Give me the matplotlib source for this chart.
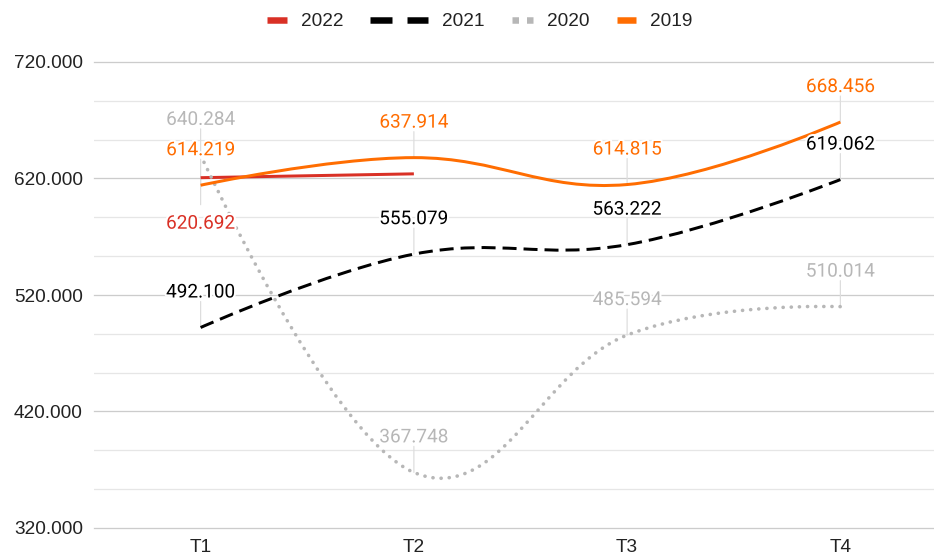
import matplotlib
matplotlib.use('Agg')
import matplotlib.pyplot as plt
from matplotlib.path import Path
from matplotlib.patches import PathPatch
from matplotlib.lines import Line2D
import matplotlib.patheffects as pe
import matplotlib.transforms as mtransforms
import numpy as np

plt.rcParams['lines.scale_dashes'] = False

# ---------------- data ----------------
categories = ['T1', 'T2', 'T3', 'T4']
series_names = ['2022', '2021', '2020', '2019']
v2022 = [620692, 624000]
v2021 = [492100, 555079, 563222, 619062]
v2020 = [640284, 367748, 485594, 510014]
v2019 = [614219, 637914, 614815, 668456]
y_ticks = [320000, 420000, 520000, 620000, 720000]

# ---------------- style ----------------
W, H, DPI = 934, 560, 100
PX = 72.0 / DPI  # points per pixel
RED, BLACK, GRAY, ORANGE = '#d93025', '#000000', '#b7b7b7', '#ff6d01'
TXT = '#222222'
TICK_FONT = 'Liberation Sans'
ANN_FONT = 'Roboto'
FS = 19 * PX


def fmt(v):
    return f"{int(round(v)):,}".replace(',', '.')


def smooth_path(ys, f=0.2):
    pts = np.column_stack([np.arange(len(ys)), ys]).astype(float)
    n = len(pts)
    verts = [pts[0]]
    codes = [Path.MOVETO]
    for i in range(n - 1):
        p0, p1 = pts[i], pts[i + 1]
        c1 = p0 + f * (pts[i + 1] - pts[i - 1]) if i > 0 else p0
        c2 = p1 - f * (pts[i + 2] - pts[i]) if i + 2 < n else p1
        verts += [c1, c2, p1]
        codes += [Path.CURVE4] * 3
    return Path(verts, codes)


fig = plt.figure(figsize=(W / DPI, H / DPI), dpi=DPI)
left, right, top, bottom = 94, 947, 62, 528
ax = fig.add_axes([left / W, (H - bottom) / H, (right - left) / W, (bottom - top) / H])
ax.set_xlim(-0.5, 3.5)
ax.set_ylim(320000, 720000)
for s in ax.spines.values():
    s.set_visible(False)

ax.set_yticks(y_ticks)
ax.set_yticklabels([fmt(t) for t in y_ticks], fontfamily=TICK_FONT, fontsize=FS, color=TXT)
ax.set_yticks(np.arange(320000, 720001, 100000 / 3), minor=True)
ax.set_xticks(range(len(categories)))
ax.set_xticklabels(categories, fontfamily=TICK_FONT, fontsize=FS, color=TXT)
ax.tick_params(which='both', length=0)
ax.tick_params(axis='y', pad=11 * PX)
ax.tick_params(axis='x', pad=11 * PX)
ax.grid(axis='y', which='major', color='#cccccc', lw=1 * PX * 1.3)
ax.grid(axis='y', which='minor', color='#e6e6e6', lw=1 * PX * 1.3)
ax.grid(axis='x', which='both', visible=False)
ax.set_axisbelow(True)
for gl in ax.yaxis.get_gridlines() + ax.yaxis.get_minorticklines():
    gl.set_clip_on(False)
for t in ax.yaxis.get_major_ticks():
    t.gridline.set_clip_on(False)
    t.gridline.set_zorder(1.5)

series = [
    (v2022, RED, dict(linestyle='-', lw=3 * PX)),
    (v2021, BLACK, dict(linestyle=(0, (14 * PX, 7 * PX)), lw=3 * PX)),
    (v2020, GRAY, dict(linestyle=(0, (0.1, 8 * PX)), lw=3.6 * PX, capstyle='round')),
    (v2019, ORANGE, dict(linestyle='-', lw=3 * PX)),
]
for vals, col, kw in series:
    patch = PathPatch(smooth_path(vals), facecolor='none', edgecolor=col, zorder=3,
                      joinstyle='round', **kw)
    ax.add_patch(patch)

# annotations: (values, index, color, above)
ann = [
    (v2020, 0, GRAY, True), (v2019, 0, ORANGE, True), (v2022, 0, RED, False),
    (v2021, 0, BLACK, True),
    (v2019, 1, ORANGE, True), (v2021, 1, BLACK, True), (v2020, 1, GRAY, True),
    (v2019, 2, ORANGE, True), (v2021, 2, BLACK, True), (v2020, 2, GRAY, True),
    (v2019, 3, ORANGE, True), (v2021, 3, BLACK, True), (v2020, 3, GRAY, True),
]
for vals, i, col, above in ann:
    v = vals[i]
    stem = 26 if above else -27
    base = 30 if above else -51
    ax.annotate('', xy=(i, v), xytext=(0, stem * PX), textcoords='offset points',
                arrowprops=dict(arrowstyle='-', color='#dddddd', lw=1 * PX * 1.2,
                                shrinkA=0, shrinkB=0), zorder=2)
    ax.annotate(fmt(v), xy=(i, v), xytext=(0, base * PX), textcoords='offset points',
                ha='center', va='baseline', color=col, fontfamily=ANN_FONT, fontsize=FS,
                zorder=6, path_effects=[pe.withStroke(linewidth=3, foreground='white')])

# ---------------- legend (manual) ----------------
ptrans = mtransforms.Affine2D().scale(1.0 / W, -1.0 / H).translate(0, 1) + fig.transFigure
ly = 19.5
leg = [
    ('2022', RED, (267, 287), None, 301),
    ('2021', BLACK, (370, 428), (22, 15), 442),
    ('2020', GRAY, (512, 533), (6.5, 8), 547),
    ('2019', ORANGE, (617, 636), None, 650),
]
for name, col, (x0, x1), dash, tx in leg:
    ln = Line2D([x0, x1], [ly, ly], transform=ptrans, color=col, lw=6.5 * PX,
                solid_capstyle='butt', dash_capstyle='butt')
    if dash:
        ln.set_dashes((dash[0] * PX, dash[1] * PX))
    fig.add_artist(ln)
    fig.text(tx / W, 1 - ly / H, name, ha='left', va='center_baseline', color=TXT,
             fontfamily=TICK_FONT, fontsize=FS)

fig.savefig('out.png', dpi=DPI, facecolor='white')
